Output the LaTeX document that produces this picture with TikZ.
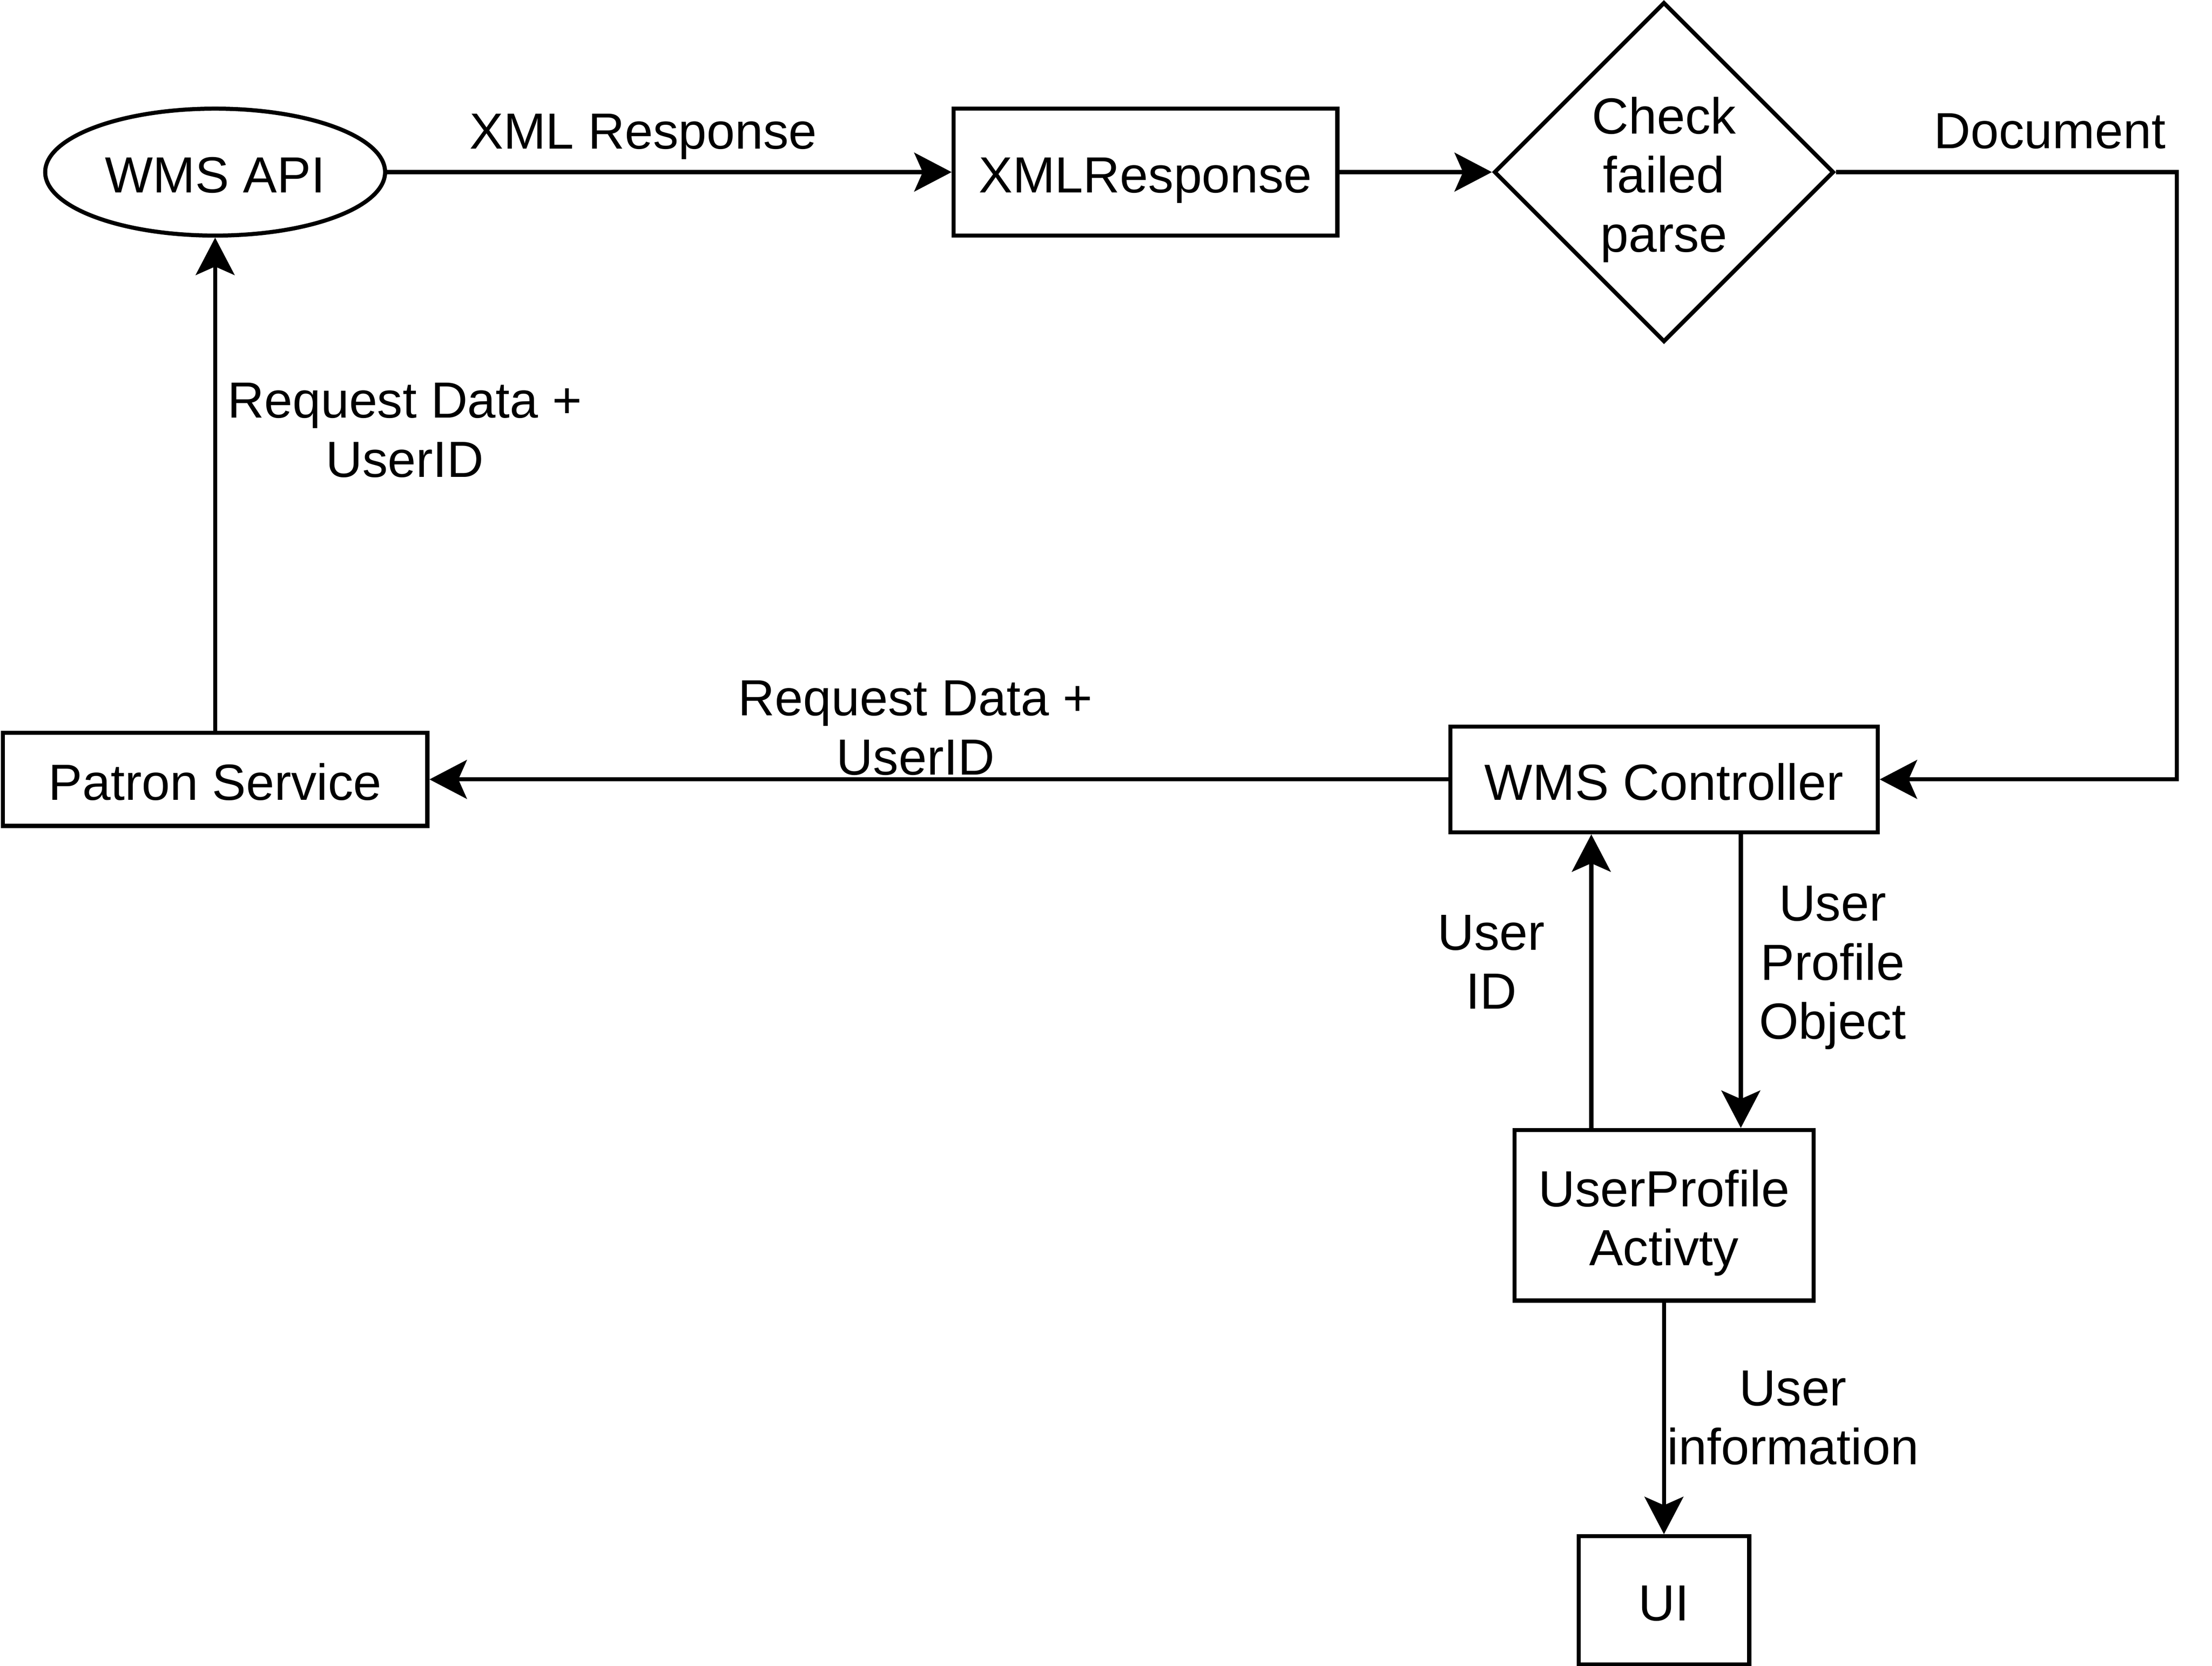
\documentclass[tikz,border=0pt]{standalone}
\usepackage{fontspec}
\setmainfont{Liberation Sans}
\usetikzlibrary{arrows.meta,shapes.geometric}

\begin{document}
\begin{tikzpicture}[>={Stealth[length=0.53cm,width=0.55cm,inset=0.12cm]},x=0.02cm,y=-0.02cm,
  every node/.style={font=\fontsize{20.5}{23.8}\selectfont,align=center,inner sep=0pt},
  box/.style={draw,line width=0.058cm,text height=0.58cm,text depth=0cm},
  box2/.style={box,text height=1.42cm},
  box3/.style={box,text height=2.26cm},
  conn/.style={black,line width=0.058cm,->}]
%%
  \useasboundingbox (0,0) rectangle (1568,1181);

  \node (node_api) at (152.5,122) [box,ellipse,minimum width=4.82cm,minimum height=1.8cm] {WMS API};
  \node (node_xml) at (812,122) [box,rectangle,minimum width=5.44cm,minimum height=1.8cm] {XMLResponse};
  \node (node_check) at (1179.5,122) [box3,diamond,aspect=1,minimum width=4.82cm,minimum height=4.82cm] {Check\\failed\\parse};
  \node (node_ctrl) at (1179.5,552.5) [box,rectangle,minimum width=6.06cm,minimum height=1.5cm] {WMS Controller};
  \node (node_patron) at (152.5,552.5) [box,rectangle,minimum width=6.02cm,minimum height=1.32cm] {Patron Service};
  \node (node_profile) at (1179.5,861.5) [box2,rectangle,minimum width=4.24cm,minimum height=2.42cm] {UserProfile\\Activty};
  \node (node_ui) at (1179.5,1134.5) [box,rectangle,minimum width=2.42cm,minimum height=1.82cm] {UI};
  \coordinate (corner_doc) at (1543,122);

  \node (lbl_xml) at (456,97) {XML Response};
  \node (lbl_doc) at (1453,93) {Document};
  \node (lbl_req_up) at (287,305) {Request Data +\\UserID};
  \node (lbl_req_left) at (649,516) {Request Data +\\UserID};
  \node (lbl_uid) at (1057,682) {User\\ID};
  \node (lbl_upo) at (1299,686) {User\\Profile\\Object};
  \node (lbl_info) at (1271,1005) {User\\information};

  \draw [conn] (node_api) -- (node_xml);
  \draw [conn] (node_xml) -- (node_check);
  \draw [conn] (node_check.east) -- (corner_doc) |- (node_ctrl.east);
  \draw [conn] (node_ctrl) -- (node_patron);
  \draw [conn] (node_patron) -- (node_api);
  \draw [conn] ([xshift=-1.03cm]node_profile.north) -- ([xshift=-1.03cm]node_profile.north |- node_ctrl.south);
  \draw [conn] ([xshift=1.09cm]node_profile.north |- node_ctrl.south) -- ([xshift=1.09cm]node_profile.north);
  \draw [conn] (node_profile) -- (node_ui);

\end{tikzpicture}
\end{document}
